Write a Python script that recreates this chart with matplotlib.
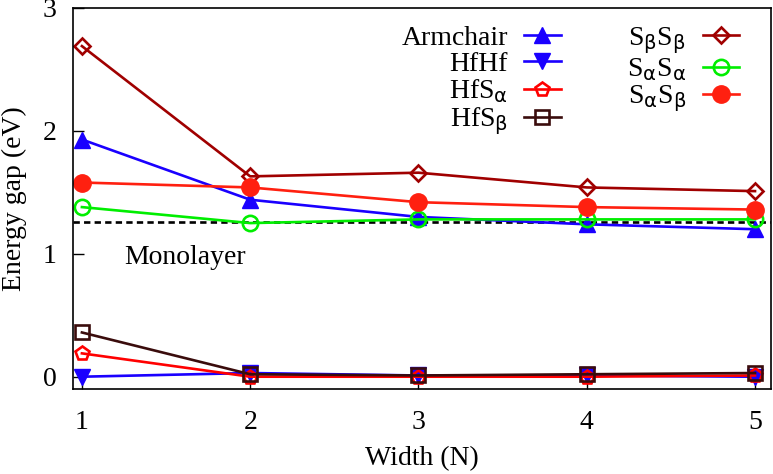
import numpy as np
import matplotlib
matplotlib.use("Agg")
from matplotlib import pyplot as plt

# ------------------
# data
# ------------------
width = [1, 2, 3, 4, 5]
armchair = [1.93, 1.44, 1.30, 1.24, 1.20]
hfhf = [0.00, 0.03, 0.01, 0.01, 0.00]
hfsa = [0.19, 0.00, 0.00, 0.00, 0.01]
hfsb = [0.36, 0.02, 0.01, 0.02, 0.03]
sbsb = [2.69, 1.63, 1.66, 1.54, 1.51]
sasa = [1.38, 1.25, 1.28, 1.28, 1.28]
sasb = [1.58, 1.54, 1.42, 1.38, 1.36]
monolayer = 1.26

plt.rcParams['font.family'] = ['Liberation Serif', 'DejaVu Serif']
plt.rcParams['mathtext.fontset'] = 'custom'
plt.rcParams['mathtext.rm'] = 'DejaVu Sans'
plt.rcParams['mathtext.it'] = 'DejaVu Sans'

fig = plt.figure(figsize=(7.73, 4.74), dpi=100)
ax = fig.add_axes([73/773, 1-389/474, (771-73)/773, (389-8)/474])

ax.axhline(monolayer, color='k', ls=(0, (2.4, 1.6)), lw=1.9, zorder=1)

lw = 1.9
ms = 11
ax.plot(width, armchair, '-^', color='#1a00ff', lw=lw, ms=ms, label='Armchair')
ax.plot(width, hfhf, '-v', color='#1a00ff', lw=lw, ms=ms, label='HfHf')
ax.plot(width, hfsa, '-p', color='#ff0000', mfc='none', mew=1.9, lw=lw, ms=10,
        label=r'HfS$_{\mathrm{\alpha}}$')
ax.plot(width, hfsb, '-s', color='#3a0c0c', mfc='none', mew=1.9, lw=lw, ms=10,
        label=r'HfS$_{\mathrm{\beta}}$')
ax.plot(width, sbsb, '-D', color='#a00000', mfc='none', mew=1.9, lw=lw, ms=8.5,
        label=r'S$_{\mathrm{\beta}}$S$_{\mathrm{\beta}}$')
ax.plot(width, sasa, '-o', color='#00ee00', mfc='none', mew=1.9, lw=lw, ms=11,
        label=r'S$_{\mathrm{\alpha}}$S$_{\mathrm{\alpha}}$')
ax.plot(width, sasb, '-o', color='#ff2010', lw=lw, ms=12.5,
        label=r'S$_{\mathrm{\alpha}}$S$_{\mathrm{\beta}}$')

ax.text(1.25, 0.97, 'Monolayer', fontsize=20, va='center', ha='left')

ax.set_xlim(0.947, 5.095)
ax.set_ylim(-0.1, 3.0)
ax.set_xticks(width)
ax.set_yticks([0, 1, 2, 3])
ax.tick_params(direction='in', length=8, width=1, labelsize=20, pad=12)
ax.tick_params(axis='x', pad=15)
for s in ax.spines.values():
    s.set_linewidth(1.2)

ax.set_xlabel('Width (N)', fontsize=20, labelpad=8)
ax.set_ylabel('Energy gap (eV)', fontsize=20, labelpad=11)

ax.legend(ncol=2, loc='upper right', bbox_to_anchor=(0.982, 1.006),
          frameon=False, markerfirst=False, fontsize=20, handlelength=1.3,
          handletextpad=0.6, columnspacing=2.4, labelspacing=0.02, borderpad=0.2)

fig.savefig('out.png', dpi=100)
